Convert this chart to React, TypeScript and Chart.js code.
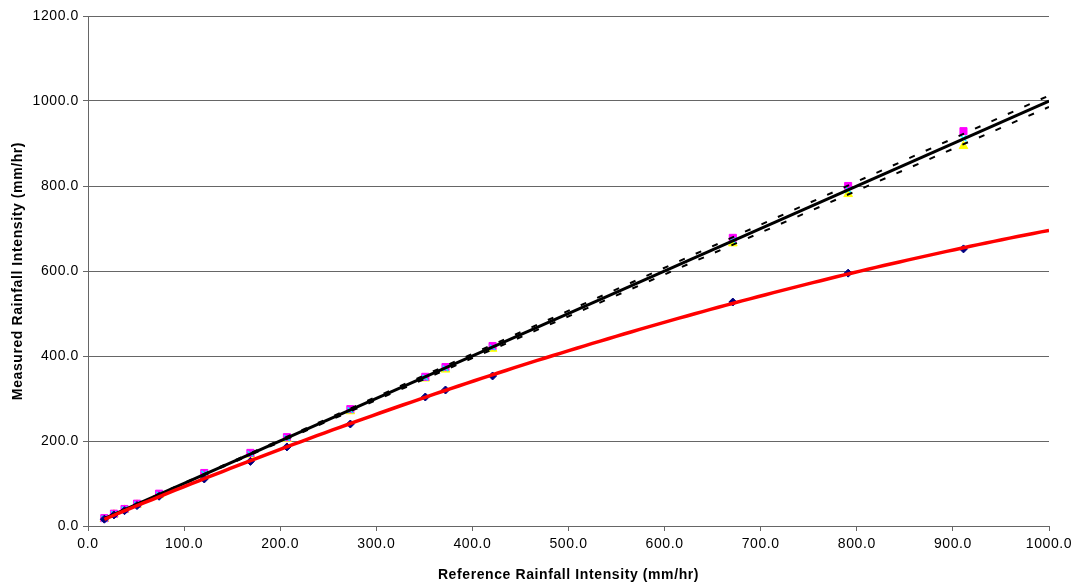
import React, { useEffect, useRef } from "react";
import { Chart, registerables } from "chart.js";

Chart.register(...registerables);

// Reference rainfall intensity (mm/hr)
const refIntensity = [17, 27, 38, 51, 74, 121, 169, 207, 273, 351, 372, 421, 671, 791, 911];
// Measured rainfall intensity by gauge (mm/hr)
const gaugeA = [16, 26, 36, 48, 70, 110.6, 152, 186, 240, 303.5, 320, 353, 527, 595, 652];
const gaugeB = [18.5, 29, 40, 52.5, 76, 124.7, 172, 209, 275, 351, 374, 423.5, 678, 800, 929];
const gaugeC = [16.5, 27, 38, 50, 72.5, 121, 168, 205, 270, 347, 368, 417, 665, 781, 894];
const gaugeD = [17.5, 28, 39, 51, 74, 123, 170, 207, 272.5, 349, 371, 420, 672, 791, 912];

const xTicks = [0, 100, 200, 300, 400, 500, 600, 700, 800, 900, 1000];
const yTicks = [0, 200, 400, 600, 800, 1000, 1200];
const trendEnd = 1000;

const FONT = "'Liberation Sans', Arial, sans-serif";

function linearFit(xs: number[], ys: number[]) {
  const n = xs.length;
  let sx = 0, sy = 0, sxx = 0, sxy = 0;
  for (let i = 0; i < n; i++) {
    sx += xs[i]; sy += ys[i]; sxx += xs[i] * xs[i]; sxy += xs[i] * ys[i];
  }
  const b = (n * sxy - sx * sy) / (n * sxx - sx * sx);
  const a = (sy - b * sx) / n;
  return (x: number) => a + b * x;
}

function quadFit(xs: number[], ys: number[]) {
  const S = [0, 0, 0, 0, 0];
  const T = [0, 0, 0];
  for (let i = 0; i < xs.length; i++) {
    let p = 1;
    for (let k = 0; k < 5; k++) { S[k] += p; if (k < 3) T[k] += p * ys[i]; p *= xs[i]; }
  }
  const M = [
    [S[0], S[1], S[2], T[0]],
    [S[1], S[2], S[3], T[1]],
    [S[2], S[3], S[4], T[2]],
  ];
  for (let c = 0; c < 3; c++) {
    let piv = c;
    for (let r = c + 1; r < 3; r++) if (Math.abs(M[r][c]) > Math.abs(M[piv][c])) piv = r;
    [M[c], M[piv]] = [M[piv], M[c]];
    for (let r = 0; r < 3; r++) {
      if (r === c) continue;
      const f = M[r][c] / M[c][c];
      for (let k = c; k < 4; k++) M[r][k] -= f * M[c][k];
    }
  }
  const c0 = M[0][3] / M[0][0], c1 = M[1][3] / M[1][1], c2 = M[2][3] / M[2][2];
  return (x: number) => c0 + c1 * x + c2 * x * x;
}

function pts(ys: number[]) {
  return refIntensity.map((x, i) => ({ x, y: ys[i] }));
}

function lineFrom(f: (x: number) => number, steps: number) {
  const x0 = Math.min(...refIntensity);
  const out: { x: number; y: number }[] = [];
  for (let i = 0; i <= steps; i++) {
    const x = x0 + ((trendEnd - x0) * i) / steps;
    out.push({ x, y: f(x) });
  }
  return out;
}

const SPACING = "0.6px";
const spacingPlugin = {
  id: "letterSpacing",
  beforeLayout(chart: any) { chart.ctx.letterSpacing = SPACING; },
  beforeDraw(chart: any) { chart.ctx.letterSpacing = SPACING; },
};

export default function App() {
  const ref = useRef<HTMLCanvasElement | null>(null);

  useEffect(() => {
    if (!ref.current) return;
    Chart.defaults.color = "#000";
    const redFit = quadFit(refIntensity, gaugeA);
    const fitB = linearFit(refIntensity, gaugeB);
    const fitC = linearFit(refIntensity, gaugeC);
    const fitD = linearFit(refIntensity, gaugeD);

    const trendBase = {
      type: "line" as const,
      showLine: true,
      pointRadius: 0,
      pointHoverRadius: 0,
      fill: false,
      tension: 0,
    };

    const chart = new Chart(ref.current, {
      type: "scatter",
      data: {
        datasets: [
          { ...trendBase, label: "Fit A", data: lineFrom(redFit, 120), borderColor: "#FF0000", borderWidth: 3.5, order: 0 },
          { ...trendBase, label: "Fit D", data: lineFrom(fitD, 1), borderColor: "#000000", borderWidth: 3, order: 0 },
          { ...trendBase, label: "Fit B", data: lineFrom(fitB, 1), borderColor: "#000000", borderWidth: 2, borderDash: [6, 12], order: 0 },
          { ...trendBase, label: "Fit C", data: lineFrom(fitC, 1), borderColor: "#000000", borderWidth: 2, borderDash: [6, 12], order: 0 },
          { label: "Gauge A", data: pts(gaugeA), pointStyle: "rectRot", pointRadius: 4, backgroundColor: "#000080", borderColor: "#000080", borderWidth: 1, order: 1 },
          { label: "Gauge D", data: pts(gaugeD), pointStyle: "crossRot", pointRadius: 4, backgroundColor: "#00FFFF", borderColor: "#00FFFF", borderWidth: 1.5, order: 2 },
          { label: "Gauge B", data: pts(gaugeB), pointStyle: "rect", pointRadius: 5, backgroundColor: "#FF00FF", borderColor: "#FF00FF", borderWidth: 1, order: 3 },
          { label: "Gauge C", data: pts(gaugeC), pointStyle: "triangle", pointRadius: 5, backgroundColor: "#FFFF00", borderColor: "#FFFF00", borderWidth: 1, order: 4 },
        ] as any,
      },
      options: {
        animation: false,
        responsive: true,
        maintainAspectRatio: false,
        layout: { padding: { top: 16, right: 29, bottom: 0, left: 0 } },
        plugins: { legend: { display: false }, tooltip: { enabled: false } },
        scales: {
          x: {
            type: "linear",
            min: xTicks[0],
            max: xTicks[xTicks.length - 1],
            afterBuildTicks: (scale: any) => { scale.ticks = xTicks.map((v) => ({ value: v })); },
            afterFit: (scale: any) => { scale.height = 59; },
            ticks: {
              font: { family: FONT, size: 14 },
              padding: 5,
              callback: (v: any) => Number(v).toFixed(1),
              maxRotation: 0,
            },
            grid: { display: true, drawOnChartArea: false, drawTicks: true, tickLength: 5, color: "#666666" },
            border: { display: true, color: "#666666", width: 1 },
            title: {
              display: true,
              text: "Reference Rainfall Intensity (mm/hr)",
              font: { family: FONT, size: 14, weight: "bold" },
              padding: { top: 0, bottom: 1 },
            },
          },
          y: {
            type: "linear",
            min: yTicks[0],
            max: yTicks[yTicks.length - 1],
            afterBuildTicks: (scale: any) => { scale.ticks = yTicks.map((v) => ({ value: v })); },
            afterFit: (scale: any) => { scale.width = 88; },
            ticks: {
              font: { family: FONT, size: 14 },
              padding: 4,
              callback: (v: any) => Number(v).toFixed(1),
            },
            grid: { display: true, drawTicks: true, tickLength: 5, color: "#666666", lineWidth: 1 },
            border: { display: true, color: "#666666", width: 1 },
            title: {
              display: true,
              text: "Measured Rainfall Intensity (mm/hr)",
              font: { family: FONT, size: 14, weight: "bold" },
              padding: { top: 10, bottom: 0 },
            },
          },
        },
      },
      plugins: [spacingPlugin],
    });
    return () => chart.destroy();
  }, []);

  return (
    <div style={{ position: "fixed", left: 0, top: 0, width: 1078, height: 585, background: "#fff" }}>
      <canvas ref={ref} />
    </div>
  );
}
